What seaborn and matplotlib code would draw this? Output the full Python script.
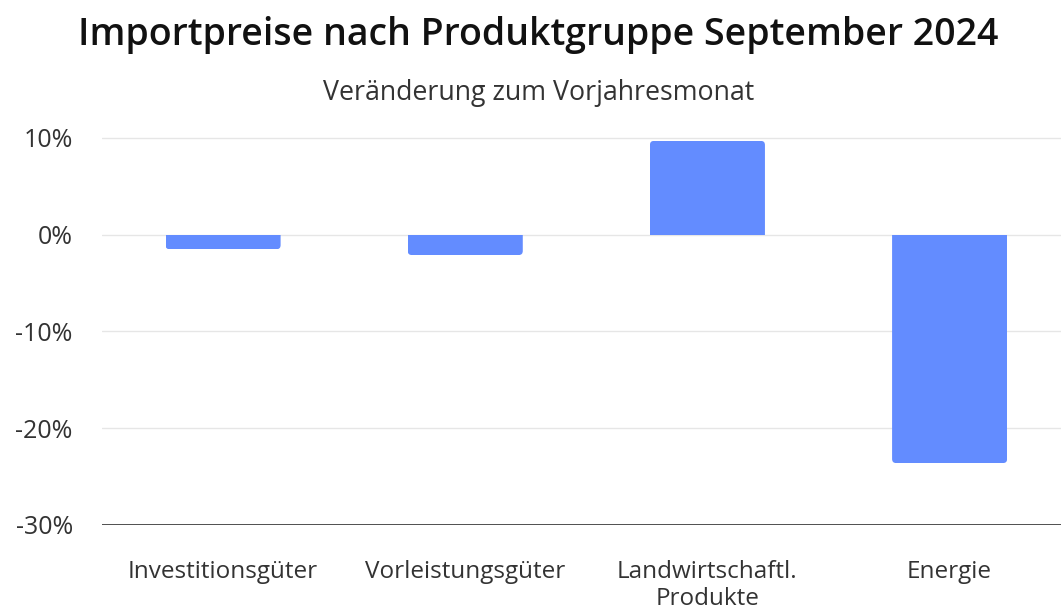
import matplotlib
matplotlib.use("Agg")
import matplotlib.pyplot as plt
import seaborn as sns
import pandas as pd
from matplotlib.ticker import FuncFormatter
from matplotlib.patches import FancyBboxPatch, Rectangle

# -----------------------------
# DATA
# -----------------------------
categories = ["Investitionsgüter", "Vorleistungsgüter", "Landwirtschaftl.\nProdukte", "Energie"]
values = [-1.5, -2.1, 9.7, -23.6]
y_ticks = [-30, -20, -10, 0, 10]

df = pd.DataFrame({"Produktgruppe": categories, "Veraenderung": values})

# -----------------------------
# PLOT
# -----------------------------
sns.set_theme(style="white")
plt.rcParams["font.family"] = ["Open Sans", "DejaVu Sans"]

fig = plt.figure(figsize=(10.61, 6.12), dpi=100)
ax = fig.add_axes([102 / 1061, 1 - 525 / 612, 1 - 102 / 1061, (525 - 128) / 612])

sns.barplot(data=df, x="Produktgruppe", y="Veraenderung", color="#638CFF",
            saturation=1, width=0.475, ax=ax, zorder=3)

ax.set_ylim(-30, 10 + 10 * 10 / 97)
ax.set_xlim(-0.5, 3.46)

# rounded ends on the bars (outer end only)
rx, ry = 0.017, 0.42
for p in list(ax.patches):
    x, y0 = p.get_x(), p.get_y()
    w, h = p.get_width(), p.get_height()
    lo, hi = min(y0, y0 + h), max(y0, y0 + h)
    if hi <= 0:
        hi += ry
    else:
        lo -= ry
    fb = FancyBboxPatch((x, lo), w, hi - lo,
                        boxstyle=f"round,pad=0,rounding_size={rx}",
                        mutation_aspect=ry / rx, facecolor=p.get_facecolor(),
                        edgecolor="none", zorder=3)
    ax.add_patch(fb)
    clip = Rectangle((x, min(y0, y0 + h)), w, abs(h), transform=ax.transData)
    fb.set_clip_path(clip)
    p.set_visible(False)

ax.set_yticks(y_ticks)
ax.yaxis.set_major_formatter(FuncFormatter(lambda v, _: f"{v:.0f}%"))
ax.grid(axis="y", color="#e6e6e6", linewidth=1, zorder=0)
ax.axhline(-30, color="#333333", linewidth=1.2, zorder=4)

for s in ax.spines.values():
    s.set_visible(False)

ax.set_xlabel("")
ax.set_ylabel("")
ax.tick_params(axis="y", length=0, pad=21, labelsize=18, labelcolor="#333333")
ax.tick_params(axis="x", length=0, pad=25, labelsize=17.5, labelcolor="#333333")
for lbl in ax.get_xticklabels():
    lbl.set_linespacing(1.2)

fig.text(0.5075, 0.942, "Importpreise nach Produktgruppe September 2024",
         ha="center", va="center", fontsize=27, fontweight="semibold", color="#111111")
fig.text(0.508, 0.848, "Veränderung zum Vorjahresmonat",
         ha="center", va="center", fontsize=19.3, color="#333333")

fig.savefig("out.png", dpi=100)
plt.close()
